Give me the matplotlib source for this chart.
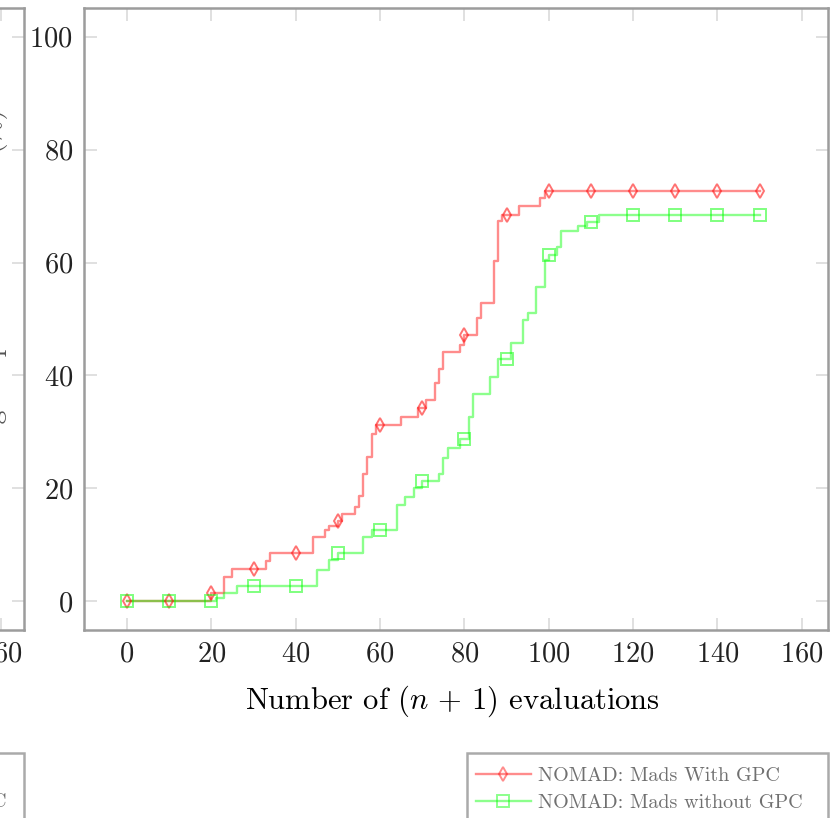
import numpy as np
import matplotlib
matplotlib.use("Agg")
import matplotlib.pyplot as plt
from matplotlib.lines import Line2D
from matplotlib.patches import Rectangle

plt.rcParams['font.family'] = ['cmr10', 'DejaVu Serif']
plt.rcParams['mathtext.fontset'] = 'cm'
plt.rcParams['axes.formatter.use_mathtext'] = True

# ---- data (step breakpoints, % of problems solved) ----
red_x = [0, 20, 23, 25, 33, 34, 44, 47, 48, 50, 51, 54, 55, 56, 57, 58, 59, 65, 69, 71,
         73, 74, 75, 79, 80, 83, 84, 87, 88, 89, 93, 98, 99, 150]
red_y = [0, 1.4, 4.3, 5.7, 7.1, 8.5, 11.4, 12.6, 13.4, 14.2, 15.5, 16.7, 18.6, 22.6, 25.6,
         29.7, 31.2, 32.7, 34.3, 35.7, 38.6, 41.1, 44.1, 45.4, 47.2, 50.1, 52.8, 60.2, 67.3,
         68.5, 70.0, 71.5, 72.7, 72.7]
green_x = [0, 21, 23, 26, 45, 48, 50, 56, 58, 64, 66, 68, 70, 74, 75, 76, 79, 81, 82, 86,
           88, 91, 94, 95, 97, 99, 100, 102, 103, 107, 109, 112, 150]
green_y = [0, 0.5, 1.4, 2.7, 5.5, 7.3, 8.5, 11.4, 12.6, 17.0, 18.5, 20.0, 21.3, 22.6, 25.3,
           27.1, 28.7, 32.7, 36.8, 39.8, 42.9, 45.8, 49.8, 51.0, 55.7, 60.5, 61.4, 62.7, 65.6,
           66.5, 67.1, 68.4, 68.4]
mark_x = [0, 10, 20, 30, 40, 50, 60, 70, 80, 90, 100, 110, 120, 130, 140, 150]
labels = ["NOMAD: Mads With GPC", "NOMAD: Mads without GPC"]
xticks = [0, 20, 40, 60, 80, 100, 120, 140, 160]
yticks = [0, 20, 40, 60, 80, 100]

red_mark = np.array(red_y)[np.searchsorted(red_x, mark_x, side='right') - 1]
green_mark = np.array(green_y)[np.searchsorted(green_x, mark_x, side='right') - 1]

W, H = 831, 818
fig = plt.figure(figsize=(W / 100, H / 100), dpi=100)

spine_c = '#9c9c9c'
tick_c = '#dadada'

def style(ax):
    for s in ax.spines.values():
        s.set_color(spine_c)
        s.set_linewidth(1.8)
    ax.tick_params(direction='in', length=9, width=1.2, color=tick_c, top=True, right=True,
                   labelsize=20.5, pad=8, labelcolor='#222222')
    ax.set_xticks(xticks)
    ax.set_yticks(yticks)
    ax.set_ylim(-5.1, 105.1)

# partial left panel (only its right edge is visible)
ax0 = fig.add_axes([-600 / W, 1 - 630 / H, 624 / W, 622 / H])
style(ax0)
ax0.set_xlim(17.6, 165.5)

# main panel
ax = fig.add_axes([84 / W, 1 - 630 / H, 744 / W, 622 / H])
style(ax)
ax.set_xlim(-10.2, 166.2)

lw = 1.7
ax.step(red_x, red_y, where='post', color='red', alpha=0.45, lw=lw, zorder=3)
ax.plot(mark_x, red_mark, ls='none', marker='d', ms=7, mfc='none', mec='red', mew=1.4,
        alpha=0.55, zorder=4)
ax.step(green_x, green_y, where='post', color='#00ff00', alpha=0.45, lw=lw, zorder=3)
ax.plot(mark_x, green_mark, ls='none', marker='s', ms=8.5, mfc='none', mec='#00ff00', mew=1.4,
        alpha=0.5, zorder=4)

ax.set_xlabel(r'Number of $(n\,+\,1)$ evaluations', fontsize=22)
ax.xaxis.set_label_coords(0.4946, -0.086)

# main panel's y label, mostly cut by the figure's left edge
fig.text(8 / W, 1 - 319 / H, 'Percentage of problems solved (%)', rotation=90,
         ha='right', va='center', fontsize=20, color='#555555')

# legend of main panel
h_red = Line2D([], [], color='red', alpha=0.45, lw=lw, marker='d', ms=7, mfc='none',
               mec='red', mew=1.4)
h_green = Line2D([], [], color='#00ff00', alpha=0.45, lw=lw, marker='s', ms=8.5, mfc='none',
                 mec='#00ff00', mew=1.4)
fig.add_artist(Rectangle((467 / W, -0.1), 361 / W, 0.1 + 1 - 753 / H, transform=fig.transFigure,
                         fill=True, fc='white', ec='#aaaaaa', lw=1.8, clip_on=False))
leg = fig.legend([h_red, h_green], labels, loc='upper left',
                 bbox_to_anchor=(467 / W, 0, 361 / W, 1 - 758 / H), mode='expand',
                 borderaxespad=0, fontsize=14.5, handlelength=2.72, handletextpad=0.34,
                 borderpad=0.45, labelspacing=0.42, numpoints=1, frameon=False)
for t in leg.get_texts():
    t.set_color('#707070')

# legend box of the left panel (partial)
fig.add_artist(Rectangle((-0.5, -0.1), 0.5 + 24 / W, 0.1 + 1 - 753 / H, transform=fig.transFigure,
                         fill=False, ec='#aaaaaa', lw=1.8, clip_on=False))
fig.text(7 / W, 1 - 802 / H, 'without GPC', ha='right', va='center', fontsize=14.5,
         color='#707070')

fig.savefig('out.png', dpi=100)
